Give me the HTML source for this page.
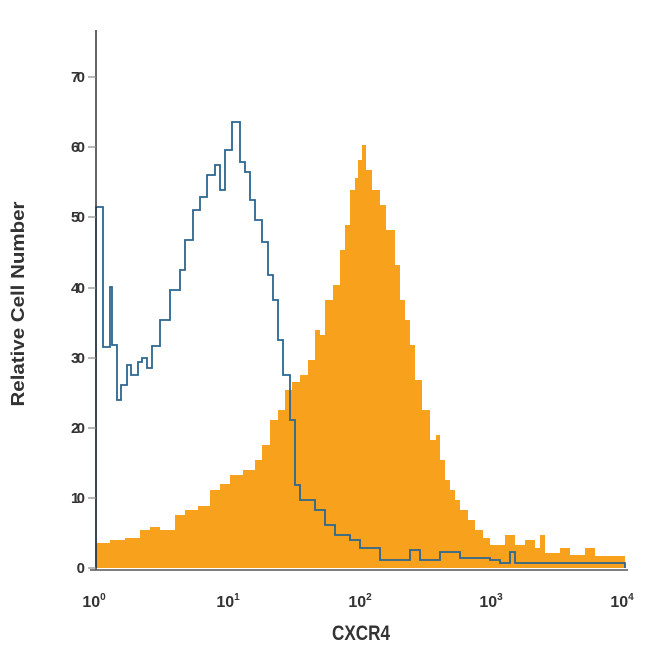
<!DOCTYPE html>
<html><head><style>body{margin:0;background:#fff}svg{display:block}</style></head><body>
<svg width="650" height="650" xmlns="http://www.w3.org/2000/svg" font-family="'Liberation Sans Narrow','Liberation Sans',sans-serif">
<polygon fill="#f7a11c" points="96,568 96,543 110,543 110,540 125,540 125,538 140,538 140,530 150,530 150,527 160,527 160,530 175,530 175,515 185,515 185,510 198,510 198,506 210,506 210,490 220,490 220,484 230,484 230,475 243,475 243,470 255,470 255,460 262,460 262,445 270,445 270,420 278,420 278,410 285,410 285,390 292,390 292,382 300,382 300,375 308,375 308,360 315,360 315,330 320,330 320,335 325,335 325,300 333,300 333,285 340,285 340,250 345,250 345,225 350,225 350,190 355,190 355,178 358,178 358,160 362,160 362,145 366,145 366,170 372,170 372,190 380,190 380,205 386,205 386,230 395,230 395,265 400,265 400,300 405,300 405,320 410,320 410,345 415,345 415,380 422,380 422,410 430,410 430,440 436,440 436,435 440,435 440,460 445,460 445,480 450,480 450,490 455,490 455,500 460,500 460,510 468,510 468,520 475,520 475,530 483,530 483,538 490,538 490,545 505,545 505,535 515,535 515,545 525,545 525,540 535,540 535,548 540,548 540,535 545,535 545,553 560,553 560,548 570,548 570,555 585,555 585,548 595,548 595,556 625,556 625,568"/>
<polyline fill="none" stroke="#2b6690" stroke-width="1.8" points="96,568 96,207 103,207 103,347 110,347 110,287 112,287 112,345 117,345 117,400 121,400 121,385 127,385 127,365 131,365 131,375 138,375 138,362 142,362 142,358 147,358 147,368 152,368 152,346 160,346 160,320 170,320 170,290 180,290 180,270 185,270 185,240 193,240 193,210 200,210 200,197 207,197 207,175 215,175 215,165 220,165 220,190 225,190 225,150 232,150 232,122 240,122 240,162 245,162 245,172 250,172 250,200 255,200 255,220 262,220 262,242 268,242 268,275 273,275 273,300 278,300 278,340 283,340 283,375 290,375 290,420 295,420 295,485 300,485 300,500 315,500 315,510 325,510 325,525 335,525 335,535 350,535 350,540 360,540 360,548 380,548 380,560 410,560 410,550 420,550 420,560 440,560 440,552 460,552 460,558 490,558 490,560 500,560 500,563 510,563 510,552 515,552 515,563 625,563 625,568"/>
<line x1="96" y1="30" x2="96" y2="570" stroke="#333" stroke-width="1.5"/>
<line x1="90" y1="570" x2="628" y2="570" stroke="#555" stroke-width="1.5"/>
<g stroke="#888" stroke-width="1.2">
<line x1="88" y1="568" x2="96" y2="568"/><line x1="88" y1="498" x2="96" y2="498"/><line x1="88" y1="428" x2="96" y2="428"/><line x1="88" y1="358" x2="96" y2="358"/><line x1="88" y1="288" x2="96" y2="288"/><line x1="88" y1="217" x2="96" y2="217"/><line x1="88" y1="147" x2="96" y2="147"/><line x1="88" y1="77" x2="96" y2="77"/>
</g>
<g id="mt" stroke="#999" stroke-width="1.2"></g>
<g fill="#333" font-size="15" text-anchor="end" font-weight="bold">
<text x="85" y="573">0</text><text x="85" y="503" textLength="14">10</text><text x="85" y="433" textLength="14">20</text><text x="85" y="363" textLength="14">30</text><text x="85" y="293" textLength="14">40</text><text x="85" y="222" textLength="14">50</text><text x="85" y="152" textLength="14">60</text><text x="85" y="82" textLength="14">70</text>
</g>
<g fill="#333" font-size="16" font-weight="bold" text-anchor="middle">
<text x="94" y="607">10<tspan font-size="10" dy="-7">0</tspan></text>
<text x="228" y="607">10<tspan font-size="10" dy="-7">1</tspan></text>
<text x="360" y="607">10<tspan font-size="10" dy="-7">2</tspan></text>
<text x="491" y="607">10<tspan font-size="10" dy="-7">3</tspan></text>
<text x="622" y="607">10<tspan font-size="10" dy="-7">4</tspan></text>
<text x="361" y="640" font-size="21" textLength="58" lengthAdjust="spacingAndGlyphs">CXCR4</text>
<text transform="translate(24,304) rotate(-90)" font-size="18" textLength="205" lengthAdjust="spacingAndGlyphs">Relative Cell Number</text>
</g>
<script>
var g=document.getElementById('mt'),s='';
for(var d=0;d<4;d++)for(var k=1;k<=10;k++){var x=96+132*(d+Math.log10(k));var L=(k==1||k==10)?9:6;s+='<line x1="'+x+'" y1="571" x2="'+x+'" y2="'+(571+L)+'"/>';}
g.innerHTML=s;
</script>
</svg>
</body></html>
